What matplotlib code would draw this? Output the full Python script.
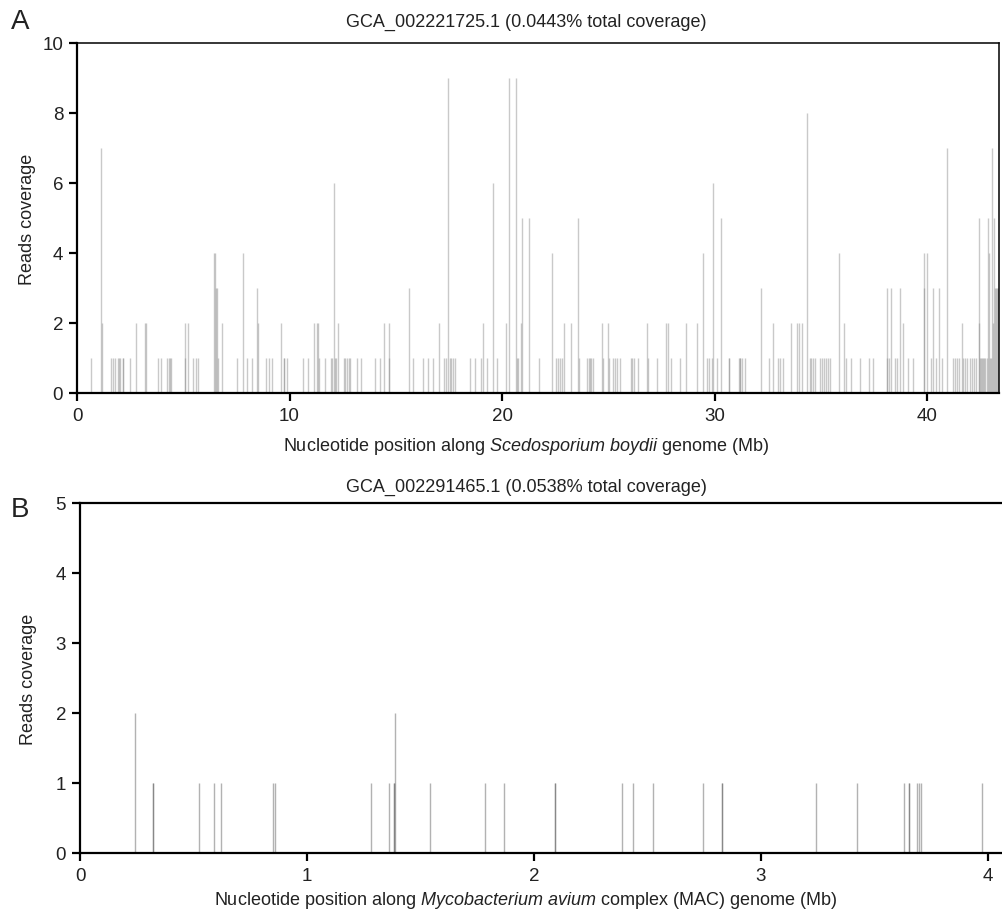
import matplotlib
matplotlib.use('Agg')
import matplotlib.pyplot as plt
import numpy as np

plt.rcParams['font.family'] = ['Liberation Sans', 'DejaVu Sans']
plt.rcParams['mathtext.fontset'] = 'custom'
plt.rcParams['mathtext.rm'] = 'Liberation Sans'
plt.rcParams['mathtext.it'] = 'Liberation Sans:italic'

# Panel A: Scedosporium boydii, positions (Mb) and read coverage
pos_a = [0.67, 1.11, 1.19, 1.60, 1.68, 1.78, 1.95, 1.97, 2.02, 2.16, 2.18, 2.49, 2.79,
         3.22, 3.24, 3.80, 3.94, 4.25, 4.32, 4.36, 4.42, 5.07, 5.10, 5.24, 5.46, 5.60,
         5.68, 6.45, 6.49, 6.55, 6.60, 6.63, 6.81, 7.51, 7.80, 7.98, 8.22, 8.46, 8.50,
         8.89, 9.05, 9.19, 9.58, 9.72, 9.74, 9.87, 10.65, 10.89, 11.15, 11.31, 11.33,
         11.39, 11.69, 11.95, 12.00, 12.08, 12.15, 12.20, 12.27, 12.56, 12.62, 12.70,
         12.78, 12.85, 13.16, 13.35, 14.02, 14.26, 14.45, 14.67, 14.70, 15.61, 15.83,
         16.30, 16.50, 16.77, 17.05, 17.29, 17.36, 17.47, 17.55, 17.62, 17.70, 17.78,
         18.49, 18.73, 19.01, 19.12, 19.31, 19.56, 19.75, 20.17, 20.33, 20.66, 20.72,
         20.74, 20.89, 20.96, 21.25, 21.76, 22.37, 22.55, 22.65, 22.72, 22.80, 22.90,
         23.23, 23.58, 23.62, 24.00, 24.08, 24.15, 24.17, 24.27, 24.69, 24.77, 24.99,
         25.01, 25.20, 25.30, 25.40, 25.55, 26.05, 26.12, 26.20, 26.40, 26.82, 26.87,
         27.28, 27.70, 27.81, 27.94, 28.38, 28.66, 29.18, 29.44, 29.65, 29.75, 29.86,
         29.93, 30.13, 30.32, 30.68, 30.70, 31.14, 31.20, 31.22, 31.30, 31.44, 32.20,
         32.55, 32.73, 33.00, 33.10, 33.20, 33.61, 33.86, 33.98, 34.10, 34.33, 34.50,
         34.55, 34.62, 34.74, 34.96, 35.05, 35.15, 35.25, 35.35, 35.44, 35.86, 36.11,
         36.20, 36.40, 36.85, 37.27, 37.47, 38.10, 38.12, 38.20, 38.32, 38.50, 38.60,
         38.71, 38.89, 39.10, 39.32, 39.84, 39.87, 40.01, 40.20, 40.28, 40.40, 40.55,
         40.70, 40.93, 41.20, 41.30, 41.40, 41.50, 41.63, 41.70, 41.80, 41.90, 42.00,
         42.10, 42.20, 42.30, 42.43, 42.46, 42.50, 42.55, 42.60, 42.65, 42.70, 42.75,
         42.80, 42.85, 42.93, 42.95, 43.00, 43.07, 43.12, 43.17, 43.20, 43.25, 43.30,
         43.35]
cov_a = [1, 7, 2, 1, 1, 1, 1, 1, 1, 1, 1, 1, 2,
         2, 2, 1, 1, 1, 1, 1, 1, 1, 2, 2, 1, 1,
         1, 4, 4, 3, 3, 1, 2, 1, 4, 1, 1, 3, 2,
         1, 1, 1, 2, 1, 1, 1, 1, 1, 2, 2, 2,
         1, 1, 1, 1, 6, 1, 1, 2, 1, 1, 1,
         1, 1, 1, 1, 1, 1, 2, 2, 1, 3, 1,
         1, 1, 1, 2, 1, 1, 9, 1, 1, 1, 1,
         1, 1, 1, 2, 1, 6, 1, 2, 9, 9, 1,
         1, 2, 5, 5, 1, 4, 1, 1, 1, 1, 2,
         2, 5, 1, 1, 1, 1, 1, 1, 2, 1, 2,
         1, 1, 1, 1, 1, 1, 1, 1, 1, 2, 1,
         1, 2, 2, 1, 1, 2, 2, 4, 1, 1, 1,
         6, 1, 5, 1, 1, 1, 1, 1, 1, 1, 3,
         1, 2, 1, 1, 1, 2, 2, 2, 2, 8, 1,
         1, 1, 1, 1, 1, 1, 1, 1, 1, 4, 2,
         1, 1, 1, 1, 1, 3, 1, 1, 3, 1, 1,
         3, 2, 1, 1, 4, 3, 4, 1, 3, 1, 3,
         1, 7, 1, 1, 1, 1, 2, 1, 1, 1, 1,
         1, 1, 1, 5, 2, 1, 1, 1, 1, 1, 1,
         1, 5, 4, 1, 1, 7, 2, 5, 3, 3, 3,
         3]

# Panel B: Mycobacterium avium complex
pos_b = [0.244, 0.322, 0.322, 0.526, 0.590, 0.620, 0.849, 0.859, 1.283, 1.363,
         1.385, 1.385, 1.389, 1.542, 1.786, 1.868, 2.095, 2.095, 2.386, 2.438,
         2.523, 2.743, 2.827, 2.827, 3.245, 3.422, 3.630, 3.654, 3.654, 3.689,
         3.697, 3.704, 3.975]
cov_b = [2, 1, 1, 1, 1, 1, 1, 1, 1, 1,
         1, 1, 2, 1, 1, 1, 1, 1, 1, 1,
         1, 1, 1, 1, 1, 1, 1, 1, 1, 1,
         1, 1, 1]

txt = '#222222'
fig = plt.figure(figsize=(10.03, 9.12), dpi=100)

ax_a = fig.add_axes([0.0768, 0.568, 0.9193, 0.3838])
ax_a.vlines(pos_a, 0, cov_a, color='#888888', alpha=0.45, linewidth=1.0)
ax_a.set_xlim(0, 43.39)
ax_a.set_ylim(0, 10)
ax_a.set_xticks([0, 10, 20, 30, 40])
ax_a.set_yticks([0, 2, 4, 6, 8, 10])
ax_a.set_ylabel('Reads coverage', fontsize=13, color=txt)
ax_a.yaxis.set_label_coords(-0.044, 0.5)
for s in ['left', 'bottom']:
    ax_a.spines[s].set_linewidth(1.6)
for s in ['top', 'right']:
    ax_a.spines[s].set_linewidth(1.1)

ax_b = fig.add_axes([0.0798, 0.0636, 0.9193, 0.3838])
ax_b.vlines(pos_b, 0, cov_b, color='#555555', alpha=0.45, linewidth=1.0)
ax_b.set_xlim(0, 4.063)
ax_b.set_ylim(0, 5)
ax_b.set_xticks([0, 1, 2, 3, 4])
ax_b.set_yticks([0, 1, 2, 3, 4, 5])
ax_b.set_ylabel('Reads coverage', fontsize=13, color=txt)
ax_b.yaxis.set_label_coords(-0.047, 0.5)
ax_b.spines['right'].set_visible(False)
for s in ['left', 'bottom', 'top']:
    ax_b.spines[s].set_linewidth(1.6)

for ax in (ax_a, ax_b):
    ax.tick_params(direction='out', length=6, width=1.6, labelsize=13.5,
                   labelcolor=txt, pad=4)

cx = 526 / 1003
fs = 13
fig.text(cx, 1 - 22 / 912, 'GCA_002221725.1 (0.0443% total coverage)',
         ha='center', va='center', fontsize=fs, color=txt)
fig.text(cx, 1 - 447 / 912,
         r'Nucleotide position along $\it{Scedosporium\ boydii}$ genome (Mb)',
         ha='center', va='center', fontsize=fs, color=txt)
fig.text(cx, 1 - 487 / 912, 'GCA_002291465.1 (0.0538% total coverage)',
         ha='center', va='center', fontsize=fs, color=txt)
fig.text(cx, 1 - 901 / 912,
         r'Nucleotide position along $\it{Mycobacterium\ avium}$ complex (MAC) genome (Mb)',
         ha='center', va='center', fontsize=fs, color=txt)
fig.text(20 / 1003, 1 - 22 / 912, 'A', ha='center', va='center', fontsize=20, color=txt)
fig.text(20 / 1003, 1 - 510 / 912, 'B', ha='center', va='center', fontsize=20, color=txt)

fig.savefig('out.png', dpi=100)
